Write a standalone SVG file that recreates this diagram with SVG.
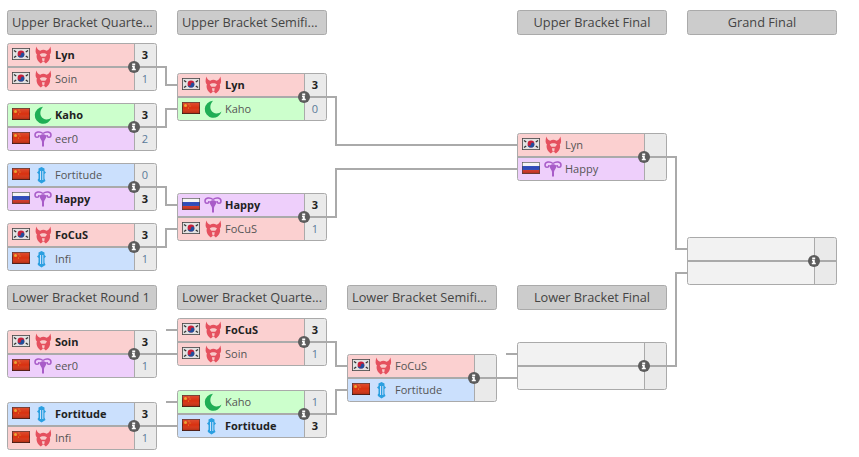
<svg xmlns="http://www.w3.org/2000/svg" width="859" height="457" viewBox="0 0 859 457">
<style>
text{font-family:"Open Sans","Noto Sans","Liberation Sans",sans-serif;font-size:11px;fill:#555}
.w{font-weight:700;fill:#222}
.sc{text-anchor:middle;fill:#5a7a99}
.sw{text-anchor:middle;font-weight:700;fill:#222}
.hd{font-size:12.75px;fill:#444}
.c{text-anchor:middle}
.hb{fill:#ccc;stroke:#aaa}
.red{fill:#fbd0d0}.grn{fill:#ccffcc}.pur{fill:#eecffb}.blu{fill:#cbe0fd}.emp{fill:#f2f2f2}.sbg{fill:#eaeaea}
.o{fill:none;stroke:#aaa;stroke-width:1}
.s{stroke:#aaa;stroke-width:2;fill:none}
.d{stroke:#aaa;stroke-width:1;fill:none}
</style>
<defs>
<linearGradient id="sh" x1="0" y1="0" x2="0" y2="1"><stop offset="0" stop-color="#fff" stop-opacity=".15"/><stop offset=".5" stop-color="#fff" stop-opacity="0"/><stop offset="1" stop-color="#000" stop-opacity=".25"/></linearGradient>
<g id="kr" transform="translate(-.5 -.5)"><rect x=".4" y=".4" width="17.200" height="11.200" fill="#e2e2e2" stroke="#444" stroke-width=".8"/><circle cx="9" cy="6" r="3.400" fill="#c8213a"/><path d="M5.600 6.200a3.400 3.400 0 0 0 6.800 0a1.700 1.700 0 0 0-3.400 0a1.700 1.700 0 0 1-3.400 0z" fill="#1f4e9c"/><path d="M2 2.500l2.200 1.500M2 9.500l2.200-1.500M16 2.500l-2.200 1.500M16 9.500l-2.200-1.500" stroke="#333" stroke-width="1.400"/></g>
<g id="cn" transform="translate(-.5 -.5)"><rect x=".4" y=".4" width="17.200" height="11.200" fill="#d8300f" stroke="#4a1208" stroke-width=".8"/><circle cx="3.500" cy="3.500" r="1.500" fill="#e9a026"/><circle cx="7" cy="2" r=".6" fill="#e9a026"/><circle cx="8" cy="4" r=".6" fill="#e9a026"/><circle cx="6.500" cy="6" r=".6" fill="#e9a026"/><rect width="18" height="12" fill="url(#sh)"/></g>
<g id="ru" transform="translate(-.5 -.5)"><rect width="18" height="4" fill="#f4f4f4"/><rect y="4" width="18" height="4" fill="#2c49b8"/><rect y="8" width="18" height="4" fill="#d8321f"/><rect width="18" height="12" fill="url(#sh)"/><rect x=".3" y=".3" width="17.400" height="11.400" fill="none" stroke="#444" stroke-width=".6"/></g>
<g id="zi"><g transform="translate(-1 -.5) scale(1.120 1.060)"><path d="M3 1C2 5 2 7 3.500 8.500C2.500 11 4 15 7 17L8.500 15.500H10L11.500 17C14.500 15 16 11 15 8.500C16.500 7 16.500 5 15.500 1C14.800 3.500 13.500 4.500 12 5C10.500 3.800 8 3.800 6.500 5C5 4.500 3.700 3.500 3 1Z" fill="#e5505e"/><path d="M6 8.500C7.500 7 11 7 12.500 8.500L11 10.500H7.500Z" fill="#f9c9c9"/><path d="M8 12h2.500l-.5 3H8.500z" fill="#f9c9c9"/></g></g>
<g id="ni"><path d="M9 .8A8.500 8.500 0 1 0 17.500 11.500C15 14 9 14.500 7 10C5.500 6.500 7 3 9 .8Z" fill="#1fae55"/></g>
<g id="pi"><path d="M9 3.500C6 1 1 1.500 1 5C1 8 5 8 5 5M9 3.500C12 1 17 1.500 17 5C17 8 13 8 13 5" fill="none" stroke="#a85cc8" stroke-width="1.500"/><path d="M5.500 6C6 9 8 10 8 12V16.500H10V12C10 10 12 9 12.500 6C11 3.500 7 3.500 5.500 6Z" fill="#a85cc8"/></g>
<g id="ti"><g transform="translate(-1.500 0)"><path d="M6 2.500L9 1L12 2.500V5L13.500 6.500L12 8V12.500L13 15L9 17.500L6 15.500L5 14L6 12.500V8L4.500 6.500L6 5Z" fill="#2b9fe0"/><path d="M8 5V14M10.300 5V14" stroke="#cbe0fd" stroke-width="1"/></g></g>
<g id="inf"><circle r="6" fill="#5c5c5c"/><path d="M-1.800-3.600h3v1.800h-3zM-2-1.200h2.800v3h1v1.500h-4v-1.500h1v-1.500h-.8z" fill="#fff"/></g>
</defs>

<g id="connectors" class="s">
<path class="s" d="M134 67H166V85H177M134 127H166V109H177M134 187H166V205H177M134 247H166V229H177"/>
<path class="s" d="M304 97H336V145H517M304 217H336V169H517"/>
<path class="s" d="M644 157H676V249H687M644 366H676V273H687"/>
<path class="s" d="M134 354H177M166 330H177M134 426H177M166 402H177"/>
<path class="s" d="M304 342H336V366H347M304 414H336V390H347"/>
<path class="s" d="M474 378H517M506 354H517"/>
</g>

<g id="header-ubq"><rect class="hb" x="7.500" y="10.500" width="149" height="24" rx="2"/><text class="hd" x="12" y="27">Upper Bracket Quarte...</text></g>
<g id="header-ubs"><rect class="hb" x="177.500" y="10.500" width="149" height="24" rx="2"/><text class="hd" x="182" y="27">Upper Bracket Semifi...</text></g>
<g id="header-ubf"><rect class="hb" x="517.500" y="10.500" width="149" height="24" rx="2"/><text class="hd c" x="592" y="27">Upper Bracket Final</text></g>
<g id="header-gf"><rect class="hb" x="687.500" y="10.500" width="149" height="24" rx="2"/><text class="hd c" x="762" y="27">Grand Final</text></g>
<g id="header-lbr1"><rect class="hb" x="7.500" y="285.500" width="149" height="24" rx="2"/><text class="hd" x="12" y="302">Lower Bracket Round 1</text></g>
<g id="header-lbq"><rect class="hb" x="177.500" y="285.500" width="149" height="24" rx="2"/><text class="hd" x="182" y="302">Lower Bracket Quarte...</text></g>
<g id="header-lbs"><rect class="hb" x="347.500" y="285.500" width="149" height="24" rx="2"/><text class="hd" x="352" y="302">Lower Bracket Semifi...</text></g>
<g id="header-lbf"><rect class="hb" x="517.500" y="285.500" width="149" height="24" rx="2"/><text class="hd c" x="592" y="302">Lower Bracket Final</text></g>

<g id="m-ubq1" transform="translate(7 43)"><rect class="red" y="1" x="1" width="127" height="23"/><rect class="red" y="24" x="1" width="127" height="23"/><rect class="sbg" x="128" y="1" width="21" height="46"/><path class="d" d="M127.500 0V48"/><path class="s" d="M0 24H150"/><rect class="o" x=".5" y=".5" width="149" height="47" rx="2"/><use href="#kr" x="5.500" y="5.500"/><use href="#zi" x="27" y="3"/><text class="w" x="48" y="16">Lyn</text><text class="sw" x="138" y="16">3</text><use href="#kr" x="5.500" y="29.500"/><use href="#zi" x="27" y="27"/><text x="48" y="40">Soin</text><text class="sc" x="138" y="40">1</text><use href="#inf" x="127" y="24"/></g>
<g id="m-ubq2" transform="translate(7 103)"><rect class="grn" y="1" x="1" width="127" height="23"/><rect class="pur" y="24" x="1" width="127" height="23"/><rect class="sbg" x="128" y="1" width="21" height="46"/><path class="d" d="M127.500 0V48"/><path class="s" d="M0 24H150"/><rect class="o" x=".5" y=".5" width="149" height="47" rx="2"/><use href="#cn" x="5.500" y="5.500"/><use href="#ni" x="27" y="3"/><text class="w" x="48" y="16">Kaho</text><text class="sw" x="138" y="16">3</text><use href="#cn" x="5.500" y="29.500"/><use href="#pi" x="27" y="27"/><text x="48" y="40">eer0</text><text class="sc" x="138" y="40">2</text><use href="#inf" x="127" y="24"/></g>
<g id="m-ubq3" transform="translate(7 163)"><rect class="blu" y="1" x="1" width="127" height="23"/><rect class="pur" y="24" x="1" width="127" height="23"/><rect class="sbg" x="128" y="1" width="21" height="46"/><path class="d" d="M127.500 0V48"/><path class="s" d="M0 24H150"/><rect class="o" x=".5" y=".5" width="149" height="47" rx="2"/><use href="#cn" x="5.500" y="5.500"/><use href="#ti" x="27" y="3"/><text x="48" y="16">Fortitude</text><text class="sc" x="138" y="16">0</text><use href="#ru" x="5.500" y="29.500"/><use href="#pi" x="27" y="27"/><text class="w" x="48" y="40">Happy</text><text class="sw" x="138" y="40">3</text><use href="#inf" x="127" y="24"/></g>
<g id="m-ubq4" transform="translate(7 223)"><rect class="red" y="1" x="1" width="127" height="23"/><rect class="blu" y="24" x="1" width="127" height="23"/><rect class="sbg" x="128" y="1" width="21" height="46"/><path class="d" d="M127.500 0V48"/><path class="s" d="M0 24H150"/><rect class="o" x=".5" y=".5" width="149" height="47" rx="2"/><use href="#kr" x="5.500" y="5.500"/><use href="#zi" x="27" y="3"/><text class="w" x="48" y="16">FoCuS</text><text class="sw" x="138" y="16">3</text><use href="#cn" x="5.500" y="29.500"/><use href="#ti" x="27" y="27"/><text x="48" y="40">Infi</text><text class="sc" x="138" y="40">1</text><use href="#inf" x="127" y="24"/></g>
<g id="m-ubs1" transform="translate(177 73)"><rect class="red" y="1" x="1" width="127" height="23"/><rect class="grn" y="24" x="1" width="127" height="23"/><rect class="sbg" x="128" y="1" width="21" height="46"/><path class="d" d="M127.500 0V48"/><path class="s" d="M0 24H150"/><rect class="o" x=".5" y=".5" width="149" height="47" rx="2"/><use href="#kr" x="5.500" y="5.500"/><use href="#zi" x="27" y="3"/><text class="w" x="48" y="16">Lyn</text><text class="sw" x="138" y="16">3</text><use href="#cn" x="5.500" y="29.500"/><use href="#ni" x="27" y="27"/><text x="48" y="40">Kaho</text><text class="sc" x="138" y="40">0</text><use href="#inf" x="127" y="24"/></g>
<g id="m-ubs2" transform="translate(177 193)"><rect class="pur" y="1" x="1" width="127" height="23"/><rect class="red" y="24" x="1" width="127" height="23"/><rect class="sbg" x="128" y="1" width="21" height="46"/><path class="d" d="M127.500 0V48"/><path class="s" d="M0 24H150"/><rect class="o" x=".5" y=".5" width="149" height="47" rx="2"/><use href="#ru" x="5.500" y="5.500"/><use href="#pi" x="27" y="3"/><text class="w" x="48" y="16">Happy</text><text class="sw" x="138" y="16">3</text><use href="#kr" x="5.500" y="29.500"/><use href="#zi" x="27" y="27"/><text x="48" y="40">FoCuS</text><text class="sc" x="138" y="40">1</text><use href="#inf" x="127" y="24"/></g>
<g id="m-ubf" transform="translate(517 133)"><rect class="red" y="1" x="1" width="127" height="23"/><rect class="pur" y="24" x="1" width="127" height="23"/><rect class="sbg" x="128" y="1" width="21" height="46"/><path class="d" d="M127.500 0V48"/><path class="s" d="M0 24H150"/><rect class="o" x=".5" y=".5" width="149" height="47" rx="2"/><use href="#kr" x="5.500" y="5.500"/><use href="#zi" x="27" y="3"/><text x="48" y="16">Lyn</text><use href="#ru" x="5.500" y="29.500"/><use href="#pi" x="27" y="27"/><text x="48" y="40">Happy</text><use href="#inf" x="127" y="24"/></g>
<g id="m-gf" transform="translate(687 237)"><rect class="emp" y="1" x="1" width="127" height="46"/><rect class="sbg" x="128" y="1" width="21" height="46"/><path class="d" d="M127.500 0V48"/><path class="s" d="M0 24H150"/><rect class="o" x=".5" y=".5" width="149" height="47" rx="2"/><use href="#inf" x="127" y="24"/></g>
<g id="m-lbr1" transform="translate(7 330)"><rect class="red" y="1" x="1" width="127" height="23"/><rect class="pur" y="24" x="1" width="127" height="23"/><rect class="sbg" x="128" y="1" width="21" height="46"/><path class="d" d="M127.500 0V48"/><path class="s" d="M0 24H150"/><rect class="o" x=".5" y=".5" width="149" height="47" rx="2"/><use href="#kr" x="5.500" y="5.500"/><use href="#zi" x="27" y="3"/><text class="w" x="48" y="16">Soin</text><text class="sw" x="138" y="16">3</text><use href="#cn" x="5.500" y="29.500"/><use href="#pi" x="27" y="27"/><text x="48" y="40">eer0</text><text class="sc" x="138" y="40">1</text><use href="#inf" x="127" y="24"/></g>
<g id="m-lbr2" transform="translate(7 402)"><rect class="blu" y="1" x="1" width="127" height="23"/><rect class="red" y="24" x="1" width="127" height="23"/><rect class="sbg" x="128" y="1" width="21" height="46"/><path class="d" d="M127.500 0V48"/><path class="s" d="M0 24H150"/><rect class="o" x=".5" y=".5" width="149" height="47" rx="2"/><use href="#cn" x="5.500" y="5.500"/><use href="#ti" x="27" y="3"/><text class="w" x="48" y="16">Fortitude</text><text class="sw" x="138" y="16">3</text><use href="#cn" x="5.500" y="29.500"/><use href="#zi" x="27" y="27"/><text x="48" y="40">Infi</text><text class="sc" x="138" y="40">1</text><use href="#inf" x="127" y="24"/></g>
<g id="m-lbq1" transform="translate(177 318)"><rect class="red" y="1" x="1" width="127" height="23"/><rect class="red" y="24" x="1" width="127" height="23"/><rect class="sbg" x="128" y="1" width="21" height="46"/><path class="d" d="M127.500 0V48"/><path class="s" d="M0 24H150"/><rect class="o" x=".5" y=".5" width="149" height="47" rx="2"/><use href="#kr" x="5.500" y="5.500"/><use href="#zi" x="27" y="3"/><text class="w" x="48" y="16">FoCuS</text><text class="sw" x="138" y="16">3</text><use href="#kr" x="5.500" y="29.500"/><use href="#zi" x="27" y="27"/><text x="48" y="40">Soin</text><text class="sc" x="138" y="40">1</text><use href="#inf" x="127" y="24"/></g>
<g id="m-lbq2" transform="translate(177 390)"><rect class="grn" y="1" x="1" width="127" height="23"/><rect class="blu" y="24" x="1" width="127" height="23"/><rect class="sbg" x="128" y="1" width="21" height="46"/><path class="d" d="M127.500 0V48"/><path class="s" d="M0 24H150"/><rect class="o" x=".5" y=".5" width="149" height="47" rx="2"/><use href="#cn" x="5.500" y="5.500"/><use href="#ni" x="27" y="3"/><text x="48" y="16">Kaho</text><text class="sc" x="138" y="16">1</text><use href="#cn" x="5.500" y="29.500"/><use href="#ti" x="27" y="27"/><text class="w" x="48" y="40">Fortitude</text><text class="sw" x="138" y="40">3</text><use href="#inf" x="127" y="24"/></g>
<g id="m-lbs" transform="translate(347 354)"><rect class="red" y="1" x="1" width="127" height="23"/><rect class="blu" y="24" x="1" width="127" height="23"/><rect class="sbg" x="128" y="1" width="21" height="46"/><path class="d" d="M127.500 0V48"/><path class="s" d="M0 24H150"/><rect class="o" x=".5" y=".5" width="149" height="47" rx="2"/><use href="#kr" x="5.500" y="5.500"/><use href="#zi" x="27" y="3"/><text x="48" y="16">FoCuS</text><use href="#cn" x="5.500" y="29.500"/><use href="#ti" x="27" y="27"/><text x="48" y="40">Fortitude</text><use href="#inf" x="127" y="24"/></g>
<g id="m-lbf" transform="translate(517 342)"><rect class="emp" y="1" x="1" width="127" height="46"/><rect class="sbg" x="128" y="1" width="21" height="46"/><path class="d" d="M127.500 0V48"/><path class="s" d="M0 24H150"/><rect class="o" x=".5" y=".5" width="149" height="47" rx="2"/><use href="#inf" x="127" y="24"/></g>
</svg>
